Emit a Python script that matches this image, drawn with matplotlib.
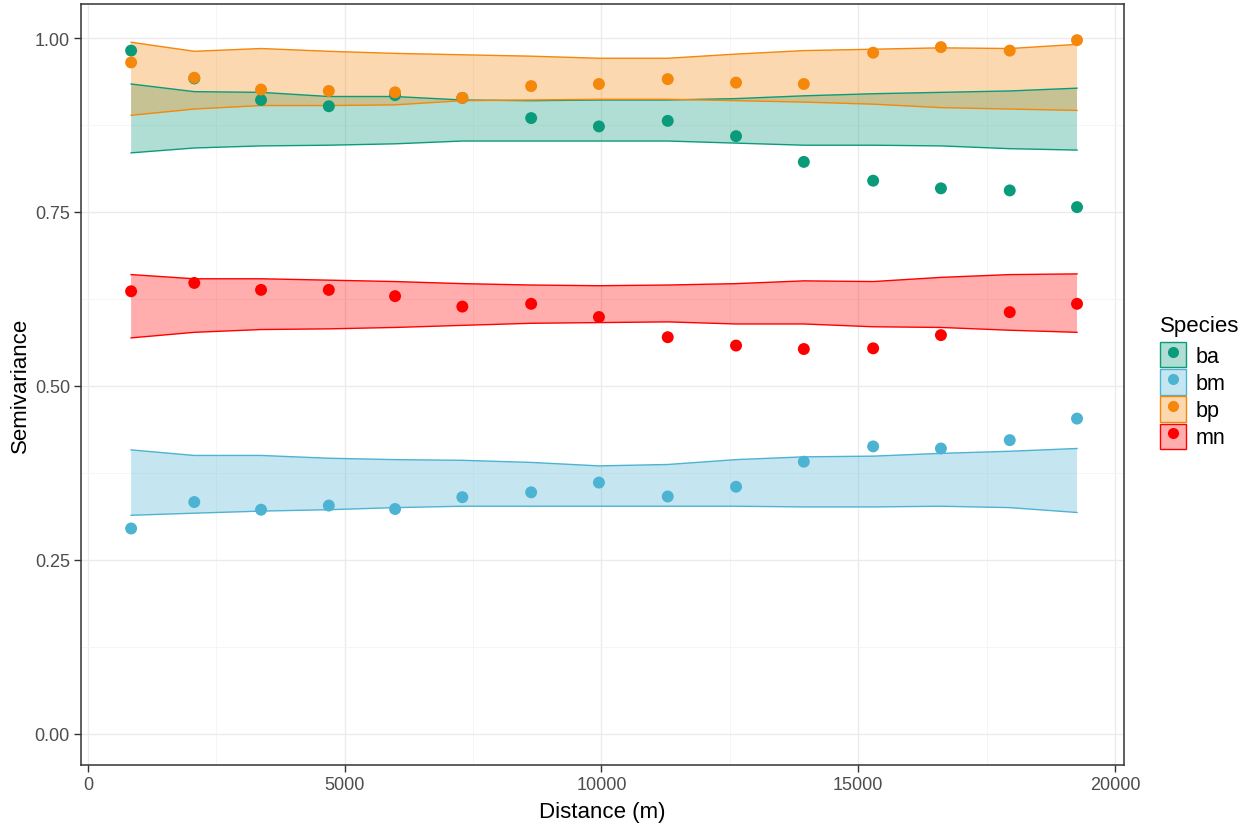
import matplotlib
matplotlib.use("Agg")
import matplotlib.pyplot as plt
from matplotlib.patches import Patch
from matplotlib.lines import Line2D
from matplotlib.legend_handler import HandlerTuple
from matplotlib.ticker import MultipleLocator, FormatStrFormatter

plt.rcParams["font.family"] = ["Liberation Sans", "DejaVu Sans"]

# Lag distances (m) of the empirical variogram bins
distance = [840, 2070, 3370, 4690, 5980, 7290, 8630, 9950,
            11290, 12620, 13940, 15290, 16610, 17950, 19260]

species = ["ba", "bm", "bp", "mn"]

# Empirical semivariance per species
semivar_ba = [0.982, 0.942, 0.911, 0.902, 0.918, 0.914, 0.885, 0.873,
              0.881, 0.859, 0.822, 0.795, 0.784, 0.781, 0.757]
semivar_bm = [0.295, 0.333, 0.322, 0.328, 0.323, 0.340, 0.347, 0.361,
              0.341, 0.355, 0.391, 0.413, 0.410, 0.422, 0.453]
semivar_bp = [0.965, 0.943, 0.926, 0.924, 0.922, 0.914, 0.931, 0.934,
              0.941, 0.936, 0.934, 0.979, 0.987, 0.982, 0.997]
semivar_mn = [0.636, 0.648, 0.638, 0.638, 0.629, 0.614, 0.618, 0.599,
              0.570, 0.558, 0.553, 0.554, 0.573, 0.606, 0.618]

# Permutation envelopes (lower / upper)
lower_ba = [0.835, 0.842, 0.845, 0.846, 0.848, 0.852, 0.852, 0.852,
            0.852, 0.849, 0.846, 0.846, 0.845, 0.841, 0.839]
upper_ba = [0.934, 0.923, 0.922, 0.916, 0.916, 0.911, 0.910, 0.911,
            0.911, 0.913, 0.917, 0.920, 0.922, 0.924, 0.928]
lower_bm = [0.314, 0.317, 0.320, 0.322, 0.325, 0.327, 0.327, 0.327,
            0.327, 0.327, 0.326, 0.326, 0.327, 0.325, 0.318]
upper_bm = [0.408, 0.400, 0.400, 0.396, 0.394, 0.393, 0.390, 0.385,
            0.387, 0.394, 0.398, 0.399, 0.403, 0.406, 0.410]
lower_bp = [0.889, 0.898, 0.903, 0.903, 0.904, 0.910, 0.911, 0.912,
            0.912, 0.910, 0.908, 0.905, 0.900, 0.898, 0.896]
upper_bp = [0.994, 0.981, 0.985, 0.981, 0.978, 0.976, 0.974, 0.971,
            0.971, 0.977, 0.982, 0.984, 0.986, 0.985, 0.991]
lower_mn = [0.569, 0.577, 0.581, 0.582, 0.584, 0.587, 0.590, 0.591,
            0.592, 0.589, 0.589, 0.585, 0.584, 0.580, 0.577]
upper_mn = [0.660, 0.654, 0.654, 0.652, 0.650, 0.647, 0.645, 0.644,
            0.645, 0.647, 0.651, 0.650, 0.656, 0.660, 0.661]

colors = {"ba": "#0A9B7B", "bm": "#4DB3D2", "bp": "#F5870A", "mn": "#FF0000"}
semivar = {"ba": semivar_ba, "bm": semivar_bm, "bp": semivar_bp, "mn": semivar_mn}
lower = {"ba": lower_ba, "bm": lower_bm, "bp": lower_bp, "mn": lower_mn}
upper = {"ba": upper_ba, "bm": upper_bm, "bp": upper_bp, "mn": upper_mn}

fig = plt.figure(figsize=(12.43, 8.28), dpi=100)
ax = fig.add_axes([81 / 1243, 62 / 828, (1124 - 81) / 1243, (766 - 5) / 828])

ribbon_alpha = 0.32
for sp in species:
    c = colors[sp]
    ax.fill_between(distance, lower[sp], upper[sp], facecolor=c,
                    alpha=ribbon_alpha, linewidth=0, zorder=2)
    ax.plot(distance, lower[sp], color=c, lw=1.0, zorder=3)
    ax.plot(distance, upper[sp], color=c, lw=1.0, zorder=3)

for sp in species:
    ax.scatter(distance, semivar[sp], s=74, color=colors[sp],
               edgecolors="none", zorder=4)

ax.set_xlim(-136, 20175)
ax.set_ylim(-0.045, 1.049)
ax.xaxis.set_major_locator(MultipleLocator(5000))
ax.xaxis.set_minor_locator(MultipleLocator(2500))
ax.yaxis.set_major_locator(MultipleLocator(0.25))
ax.yaxis.set_minor_locator(MultipleLocator(0.125))
ax.yaxis.set_major_formatter(FormatStrFormatter("%.2f"))

ax.grid(which="major", color="#EBEBEB", lw=1.0, zorder=0)
ax.grid(which="minor", color="#F4F4F4", lw=0.6, zorder=0)
ax.set_axisbelow(True)
for s in ax.spines.values():
    s.set_color("#333333")
    s.set_linewidth(1.1)

ax.tick_params(which="major", length=5, width=1.0, color="#333333",
               labelsize=13, labelcolor="#4D4D4D", pad=3)
ax.tick_params(which="minor", length=0)

ax.set_xlabel("Distance (m)", fontsize=16, color="black", labelpad=6)
ax.set_ylabel("Semivariance", fontsize=16, color="black", labelpad=3)

handles = [
    (Patch(facecolor=colors[sp], alpha=ribbon_alpha, edgecolor="none"),
     Patch(facecolor="none", edgecolor=colors[sp], linewidth=1.0),
     Line2D([], [], marker="o", ls="", color=colors[sp], markersize=8,
            markeredgewidth=0))
    for sp in species
]
leg = fig.legend(handles, species, title="Species",
                 handler_map={tuple: HandlerTuple(ndivide=1)},
                 loc="center left", bbox_to_anchor=(1149 / 1243, 0.535),
                 frameon=False, fontsize=15.5, title_fontsize=16,
                 handlelength=1.2, handleheight=1.45, labelspacing=0.08,
                 handletextpad=0.45, borderpad=0, alignment="left")
leg.get_title().set_position((0, 4))

fig.savefig("out.png", dpi=100, facecolor="white")
